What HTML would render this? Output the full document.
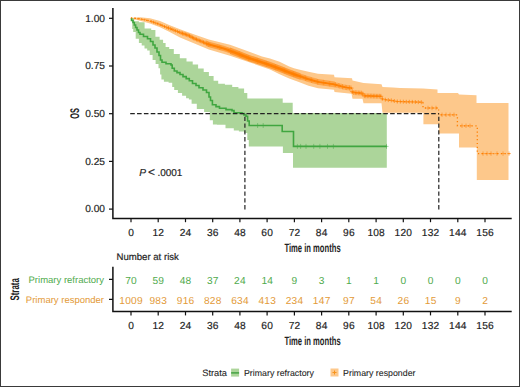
<!DOCTYPE html>
<html><head><meta charset="utf-8"><style>
html,body{margin:0;padding:0;background:#fff;}
body{width:520px;height:387px;overflow:hidden;}
svg{display:block;}
text{font-family:"Liberation Sans",sans-serif;text-rendering:geometricPrecision;}
.t{font-size:10.2px;fill:#1e1e1e;stroke:#1e1e1e;stroke-width:0.18px;}
.l{font-size:8.8px;fill:#222;stroke:#222;stroke-width:0.08px;}
.s{font-size:9.5px;}
.c{fill:#222;}
.n{font-size:10.2px;fill:#1e1e1e;stroke:#1e1e1e;stroke-width:0.18px;letter-spacing:0.2px;}
.m{font-size:10.2px;letter-spacing:0.25px;}
</style></head><body>
<svg width="520" height="387" viewBox="0 0 520 387">
<rect x="0" y="0" width="520" height="387" fill="#fff"/>
<polygon points="131.0,18.0 140.0,17.2 150.0,18.3 160.0,21.0 169.2,25.0 180.0,29.3 194.4,34.5 208.8,39.4 230.0,44.7 250.0,52.0 262.0,56.5 270.0,58.4 279.6,61.7 289.2,66.5 294.0,68.3 298.8,69.4 308.5,71.8 318.0,73.7 334.0,74.8 334.5,77.3 352.0,78.3 352.5,80.5 363.5,83.1 381.5,84.2 382.5,86.9 393.0,87.5 400.0,88.0 423.0,88.5 437.5,89.5 437.5,93.0 458.0,93.0 459.0,94.6 476.5,95.3 476.5,103.0 508.5,103.0 508.5,180.0 476.8,180.0 476.8,147.4 459.0,147.4 459.0,133.5 438.8,133.5 438.8,124.2 423.4,124.2 423.4,112.8 382.5,112.8 381.5,103.2 363.5,103.2 362.5,98.8 352.5,98.8 351.5,93.7 334.5,92.0 334.0,89.8 318.0,88.2 308.5,85.8 298.8,81.9 289.2,78.6 279.6,74.2 270.0,69.4 250.0,62.5 230.0,55.8 208.8,49.5 194.4,43.5 180.0,37.5 169.2,31.7 160.0,27.3 150.0,23.5 140.0,20.8 131.0,18.5" fill="#fdc88b"/>
<polygon points="131.0,18.3 134.2,18.3 134.2,21.2 137.3,21.2 138.9,21.2 138.9,22.3 140.4,22.3 144.6,22.3 144.6,28.5 148.7,28.5 151.2,28.5 151.2,30.0 153.8,30.0 155.4,30.0 155.4,36.7 157.0,36.7 159.6,36.7 159.6,39.8 162.1,39.8 163.1,39.8 163.1,42.9 164.2,42.9 165.6,42.9 165.6,47.0 166.9,47.0 169.2,47.0 169.2,49.0 171.4,49.0 173.8,49.0 173.8,54.1 176.2,54.1 179.8,54.1 179.8,58.3 183.4,58.3 186.5,58.3 186.5,61.4 189.6,61.4 192.7,61.4 192.7,64.5 195.8,64.5 198.1,64.5 198.1,68.5 200.4,68.5 203.7,68.5 203.7,72.0 206.9,72.0 208.9,72.0 208.9,76.0 211.0,76.0 213.6,76.0 213.6,80.7 216.2,80.7 218.2,80.7 218.2,83.8 220.3,83.8 224.9,83.8 224.9,84.8 229.6,84.8 232.2,84.8 232.2,86.9 234.8,86.9 238.4,86.9 238.4,88.5 242.0,88.5 244.1,88.5 244.1,93.1 246.1,93.1 247.3,93.1 247.3,98.5 248.6,98.5 282.7,98.5 282.7,102.7 292.7,102.7 292.7,113.0 386.8,113.0 386.8,167.8 293.5,167.8 293.0,167.8 293.0,153.1 292.5,153.1 283.2,153.1 282.9,153.1 282.9,146.5 282.7,146.5 249.0,146.5 248.8,146.5 248.8,140.0 248.6,140.0 247.3,140.0 247.3,133.0 246.1,133.0 244.1,133.0 244.1,131.5 242.0,131.5 238.9,131.5 238.9,130.5 235.8,130.5 233.8,130.5 233.8,128.2 231.7,128.2 225.5,128.2 225.5,124.8 219.3,124.8 216.9,124.8 216.9,124.4 214.4,124.4 212.9,124.4 212.9,120.3 211.3,120.3 209.8,120.3 209.8,112.0 208.2,112.0 204.1,112.0 204.1,108.9 200.0,108.9 196.8,108.9 196.8,103.7 193.7,103.7 191.6,103.7 191.6,99.6 189.6,99.6 188.9,99.6 188.9,98.2 188.2,98.2 186.1,98.2 186.1,95.7 184.1,95.7 182.1,95.7 182.1,93.1 180.0,93.1 177.9,93.1 177.9,90.0 175.8,90.0 174.2,90.0 174.2,86.9 172.7,86.9 172.2,86.9 172.2,82.7 171.7,82.7 168.6,82.7 168.6,81.7 165.5,81.7 163.9,81.7 163.9,79.6 162.4,79.6 161.4,79.6 161.4,74.5 160.3,74.5 160.1,74.5 160.1,68.3 159.8,68.3 158.5,68.3 158.5,64.1 157.2,64.1 155.6,64.1 155.6,60.0 154.1,60.0 152.6,60.0 152.6,55.0 151.0,55.0 149.7,55.0 149.7,50.5 148.3,50.5 147.2,50.5 147.2,48.5 146.0,48.5 144.5,48.5 144.5,45.5 143.0,45.5 141.7,45.5 141.7,43.0 140.4,43.0 138.9,43.0 138.9,38.8 137.3,38.8 135.7,38.8 135.7,32.0 134.0,32.0 133.2,32.0 133.2,29.0 132.5,29.0 132.2,29.0 132.2,21.0 131.8,21.0 131.4,21.0 131.4,18.3 131.0,18.3" fill="#acd59a"/>
<polyline points="131.0,18.2 135.0,18.3 140.0,18.9 145.0,19.8 150.0,21.0 157.7,23.7 163.0,25.9 169.2,28.3 180.0,32.5 188.5,35.4 194.4,38.6 208.8,44.4 223.3,48.3 230.0,50.7 239.2,54.2 248.8,58.1 258.5,61.2 270.0,65.1 279.6,68.7 289.2,72.5 298.8,76.0 308.5,79.2 318.0,81.9 333.0,84.2 344.6,87.2 351.5,88.2 352.5,92.5 362.5,93.2 363.5,95.8 381.5,96.3 382.5,99.4 393.0,100.6 396.0,101.5 423.0,102.2" fill="none" stroke="#FF7F00" stroke-width="1.3" stroke-dasharray="1.2 2.6"/>
<path d="M131.5,17.2v2.0M130.5,18.2h2.0M134.8,17.3v2.0M133.8,18.3h2.0M138.1,17.7v2.0M137.1,18.7h2.0M141.4,18.2v2.0M140.4,19.2h2.0M144.7,18.7v2.0M143.7,19.7h2.0M148.0,19.5v2.0M147.0,20.5h2.0M151.3,20.0v3.0M149.8,21.5h3.0M153.5,20.7v3.0M152.0,22.2h3.0M155.7,21.5v3.0M154.2,23.0h3.0M157.9,22.3v3.0M156.4,23.8h3.0M160.1,23.2v3.0M158.6,24.7h3.0M162.3,24.1v3.0M160.8,25.6h3.0M164.5,25.0v3.0M163.0,26.5h3.0M166.7,25.5v3.6M164.9,27.3h3.6M168.5,26.2v3.6M166.7,28.0h3.6M170.3,26.9v3.6M168.5,28.7h3.6M172.1,27.6v3.6M170.3,29.4h3.6M173.9,28.3v3.6M172.1,30.1h3.6M175.7,29.0v3.6M173.9,30.8h3.6M177.5,29.7v3.6M175.7,31.5h3.6M179.3,30.4v3.6M177.5,32.2h3.6M181.1,30.8v4.2M179.0,32.9h4.2M182.5,31.3v4.2M180.4,33.4h4.2M183.9,31.7v4.2M181.8,33.8h4.2M185.3,32.2v4.2M183.2,34.3h4.2M186.7,32.7v4.2M184.6,34.8h4.2M188.1,33.2v4.2M186.0,35.3h4.2M189.5,33.8v4.2M187.4,35.9h4.2M190.9,34.6v4.2M188.8,36.7h4.2M192.3,35.4v4.2M190.2,37.5h4.2M193.7,36.1v4.2M191.6,38.2h4.2M195.1,36.8v4.2M193.0,38.9h4.2M196.5,37.3v4.2M194.4,39.4h4.2M197.9,37.9v4.2M195.8,40.0h4.2M199.3,38.5v4.2M197.2,40.6h4.2M200.7,39.0v4.2M198.6,41.1h4.2M202.1,39.6v4.2M200.0,41.7h4.2M203.5,40.2v4.2M201.4,42.3h4.2M204.9,40.7v4.2M202.8,42.8h4.2M206.3,40.7v5.4M203.6,43.4h5.4M207.4,41.1v5.4M204.7,43.8h5.4M208.5,41.6v5.4M205.8,44.3h5.4M209.6,41.9v5.4M206.9,44.6h5.4M210.7,42.2v5.4M208.0,44.9h5.4M211.8,42.5v5.4M209.1,45.2h5.4M212.9,42.8v5.4M210.2,45.5h5.4M214.0,43.1v5.4M211.3,45.8h5.4M215.1,43.4v5.4M212.4,46.1h5.4M216.2,43.7v5.4M213.5,46.4h5.4M217.3,44.0v5.4M214.6,46.7h5.4M218.4,44.3v5.4M215.7,47.0h5.4M219.5,44.6v5.4M216.8,47.3h5.4M220.6,44.9v5.4M217.9,47.6h5.4M221.7,45.2v5.4M219.0,47.9h5.4M222.8,45.5v5.4M220.1,48.2h5.4M223.9,45.8v5.4M221.2,48.5h5.4M225.0,46.2v5.4M222.3,48.9h5.4M226.1,46.6v5.4M223.4,49.3h5.4M227.2,47.0v5.4M224.5,49.7h5.4M228.3,47.4v5.4M225.6,50.1h5.4M229.4,47.8v5.4M226.7,50.5h5.4M230.5,47.7v6.4M227.3,50.9h6.4M231.4,48.0v6.4M228.2,51.2h6.4M232.3,48.4v6.4M229.1,51.6h6.4M233.2,48.7v6.4M230.0,51.9h6.4M234.1,49.1v6.4M230.9,52.3h6.4M235.0,49.4v6.4M231.8,52.6h6.4M235.9,49.7v6.4M232.7,52.9h6.4M236.8,50.1v6.4M233.6,53.3h6.4M237.7,50.4v6.4M234.5,53.6h6.4M238.6,50.8v6.4M235.4,54.0h6.4M239.5,51.1v6.4M236.3,54.3h6.4M240.4,51.5v6.4M237.2,54.7h6.4M241.3,51.9v6.4M238.1,55.1h6.4M242.2,52.2v6.4M239.0,55.4h6.4M243.1,52.6v6.4M239.9,55.8h6.4M244.0,53.0v6.4M240.8,56.2h6.4M244.9,53.3v6.4M241.7,56.5h6.4M245.8,53.7v6.4M242.6,56.9h6.4M246.7,54.0v6.4M243.5,57.2h6.4M247.6,54.4v6.4M244.4,57.6h6.4M248.5,54.8v6.4M245.3,58.0h6.4M249.4,55.1v6.4M246.2,58.3h6.4M250.3,55.4v6.4M247.1,58.6h6.4M251.2,55.7v6.4M248.0,58.9h6.4M252.1,56.0v6.4M248.9,59.2h6.4M253.0,56.2v6.4M249.8,59.4h6.4M253.9,56.5v6.4M250.7,59.7h6.4M254.8,56.8v6.4M251.6,60.0h6.4M255.7,57.1v6.4M252.5,60.3h6.4M256.6,57.4v6.4M253.4,60.6h6.4M257.5,57.7v6.4M254.3,60.9h6.4M258.4,58.0v6.4M255.2,61.2h6.4M259.3,58.3v6.4M256.1,61.5h6.4M260.2,58.6v6.4M257.0,61.8h6.4M261.1,58.9v6.4M257.9,62.1h6.4M262.0,59.2v6.4M258.8,62.4h6.4M262.9,59.5v6.4M259.7,62.7h6.4M263.8,59.8v6.4M260.6,63.0h6.4M264.7,60.1v6.4M261.5,63.3h6.4M265.6,60.4v6.4M262.4,63.6h6.4M266.5,60.7v6.4M263.3,63.9h6.4M267.4,61.0v6.4M264.2,64.2h6.4M268.3,61.3v6.4M265.1,64.5h6.4M269.2,61.6v6.4M266.0,64.8h6.4M270.1,61.9v6.4M266.9,65.1h6.4M271.0,62.3v6.4M267.8,65.5h6.4M271.9,62.6v6.4M268.7,65.8h6.4M272.8,62.9v6.4M269.6,66.1h6.4M273.7,63.3v6.4M270.5,66.5h6.4M274.6,63.6v6.4M271.4,66.8h6.4M275.5,64.0v6.4M272.3,67.2h6.4M276.4,64.3v6.4M273.2,67.5h6.4M277.3,64.6v6.4M274.1,67.8h6.4M278.2,65.0v6.4M275.0,68.2h6.4M279.1,65.3v6.4M275.9,68.5h6.4M280.0,65.7v6.4M276.8,68.9h6.4M280.9,66.0v6.4M277.7,69.2h6.4M281.8,66.4v6.4M278.6,69.6h6.4M282.7,66.7v6.4M279.5,69.9h6.4M283.6,67.1v6.4M280.4,70.3h6.4M284.5,67.4v6.4M281.3,70.6h6.4M285.4,67.8v6.4M282.2,71.0h6.4M286.3,68.2v6.4M283.1,71.4h6.4M287.2,68.5v6.4M284.0,71.7h6.4M288.1,68.9v6.4M284.9,72.1h6.4M289.0,69.2v6.4M285.8,72.4h6.4M289.9,69.6v6.4M286.7,72.8h6.4M290.8,69.9v6.4M287.6,73.1h6.4M291.7,70.2v6.4M288.5,73.4h6.4M292.6,70.5v6.4M289.4,73.7h6.4M293.5,70.9v6.4M290.3,74.1h6.4M294.4,71.2v6.4M291.2,74.4h6.4M295.3,71.5v6.4M292.1,74.7h6.4M296.2,71.9v6.4M293.0,75.1h6.4M297.1,72.2v6.4M293.9,75.4h6.4M298.0,72.5v6.4M294.8,75.7h6.4M298.9,72.8v6.4M295.7,76.0h6.4M299.8,73.1v6.4M296.6,76.3h6.4M300.7,73.7v5.8M297.8,76.6h5.8M301.9,74.1v5.8M299.0,77.0h5.8M303.1,74.5v5.8M300.2,77.4h5.8M304.3,74.9v5.8M301.4,77.8h5.8M305.5,75.3v5.8M302.6,78.2h5.8M306.7,75.7v5.8M303.8,78.6h5.8M307.9,76.1v5.8M305.0,79.0h5.8M309.1,76.5v5.8M306.2,79.4h5.8M310.3,76.8v5.8M307.4,79.7h5.8M311.5,77.2v5.8M308.6,80.1h5.8M312.7,77.5v5.8M309.8,80.4h5.8M313.9,77.8v5.8M311.0,80.7h5.8M315.1,78.2v5.8M312.2,81.1h5.8M316.3,78.5v5.8M313.4,81.4h5.8M317.5,78.9v5.8M314.6,81.8h5.8M318.7,79.1v5.8M315.8,82.0h5.8M319.9,79.3v5.8M317.0,82.2h5.8M321.1,79.5v5.8M318.2,82.4h5.8M322.3,79.7v5.8M319.4,82.6h5.8M323.5,79.8v5.8M320.6,82.7h5.8M324.7,80.0v5.8M321.8,82.9h5.8M325.9,80.2v5.8M323.0,83.1h5.8M327.1,80.4v5.8M324.2,83.3h5.8M328.3,80.6v5.8M325.4,83.5h5.8M329.5,80.8v5.8M326.6,83.7h5.8M330.7,80.9v5.8M327.8,83.8h5.8M331.9,81.1v5.8M329.0,84.0h5.8M333.1,81.3v5.8M330.2,84.2h5.8M334.3,81.6v5.8M331.4,84.5h5.8M335.5,82.2v5.2M332.9,84.8h5.2M336.9,82.6v5.2M334.3,85.2h5.2M338.3,83.0v5.2M335.7,85.6h5.2M339.7,83.3v5.2M337.1,85.9h5.2M341.1,83.7v5.2M338.5,86.3h5.2M342.5,84.1v5.2M339.9,86.7h5.2M343.9,84.4v5.2M341.3,87.0h5.2M345.3,84.7v5.2M342.7,87.3h5.2M346.7,84.9v5.2M344.1,87.5h5.2M348.1,85.1v5.2M345.5,87.7h5.2M349.5,85.3v5.2M346.9,87.9h5.2M350.9,85.5v5.2M348.3,88.1h5.2M352.3,89.2v4.8M349.9,91.6h4.8M353.8,90.2v4.8M351.4,92.6h4.8M355.3,90.3v4.8M352.9,92.7h4.8M356.8,90.4v4.8M354.4,92.8h4.8M358.3,90.5v4.8M355.9,92.9h4.8M359.8,90.6v4.8M357.4,93.0h4.8M361.3,90.7v4.8M358.9,93.1h4.8M362.8,91.6v4.8M360.4,94.0h4.8M364.3,93.4v4.8M361.9,95.8h4.8M365.8,93.5v4.8M363.4,95.9h4.8M367.3,93.5v4.8M364.9,95.9h4.8M368.8,93.5v4.8M366.4,95.9h4.8M370.3,93.6v4.8M367.9,96.0h4.8M371.8,93.6v4.8M369.4,96.0h4.8M373.3,93.7v4.8M370.9,96.1h4.8M374.8,93.7v4.8M372.4,96.1h4.8M376.3,93.8v4.8M373.9,96.2h4.8M377.8,93.8v4.8M375.4,96.2h4.8M379.3,93.8v4.8M376.9,96.2h4.8M380.8,93.9v4.8M378.4,96.3h4.8M382.3,96.8v4.0M380.3,98.8h4.0M385.3,97.7v4.0M383.3,99.7h4.0M388.3,98.1v4.0M386.3,100.1h4.0M391.3,98.4v4.0M389.3,100.4h4.0M394.3,99.0v4.0M392.3,101.0h4.0M397.3,99.5v4.0M395.3,101.5h4.0M400.3,99.6v4.0M398.3,101.6h4.0M403.3,99.7v4.0M401.3,101.7h4.0M406.3,99.8v4.0M404.3,101.8h4.0M409.3,99.8v4.0M407.3,101.8h4.0M412.3,99.9v4.0M410.3,101.9h4.0M415.3,100.0v4.0M413.3,102.0h4.0M418.3,100.1v4.0M416.3,102.1h4.0M421.3,100.2v4.0M419.3,102.2h4.0" fill="none" stroke="#FF7F00" stroke-width="0.8" opacity="0.85"/>
<path d="M423,102.2 V108 H438.6 V114.8 H457.4 V125.8 H477.3 V153.6 H510" fill="none" stroke="#FF7F00" stroke-width="1.3" stroke-dasharray="1.2 2.6"/>
<path d="M428,105.8v4.4M426,108h4M432,105.8v4.4M430,108h4M436,105.8v4.4M434,108h4M442,112.6v4.4M440,114.8h4M446,112.6v4.4M444,114.8h4M450,112.6v4.4M448,114.8h4M454,112.6v4.4M452,114.8h4M462,123.6v4.4M460,125.8h4M466,123.6v4.4M464,125.8h4M470,123.6v4.4M468,125.8h4M483,151.4v4.4M481,153.6h4M487,151.4v4.4M485,153.6h4M491,151.4v4.4M489,153.6h4M497,151.4v4.4M495,153.6h4M503,151.4v4.4M501,153.6h4M509,151.4v4.4M507,153.6h4" fill="none" stroke="#FF7F00" stroke-width="0.7" opacity="0.75"/>
<path d="M131.5,18.3 V20.5 H133 V22.5 H134.3 V25 H135.6 V27.5 H137 V30 H138.5 V32.5 H140 V34.2 H143.5 V36.5 H147.5 V38.8 H150.5 V41.5 H153 V45 H155 V48 H157 V52 H159 V55.5 H160.5 V60 H162 V62.3 H166 V63.8 H171 V65 H172.2 V68.3 H174.3 V71 H177 V72.6 H180 V74.5 H183 V76.6 H186.2 V78.6 H189.3 V80.7 H192.5 V83.5 H196 V85.5 H199 V87.7 H203 V90 H206.5 V92.5 H209 V97 H210.5 V100.5 H212.4 V104.8 H216 V106.6 H219.5 V108.2 H226 V109.6 H232 V110.6 H234 V112.7 H242 V113.5 H244 V115 H246 V116.2 H247.6 V121 H249.2 V125.5 H282.2 V131.5 H293.5 V146.4 H386.8" fill="none" stroke="#40A640" stroke-width="1.6"/>
<path d="M255.60000000000002,125.5 H259.6 M257.6,123.0 V128.0" stroke="#43A843" stroke-width="0.6" opacity="0.8"/>
<path d="M261.2,125.5 H265.2 M263.2,123.0 V128.0" stroke="#43A843" stroke-width="0.6" opacity="0.8"/>
<path d="M295.4,146.4 H299.4 M297.4,143.9 V148.9" stroke="#43A843" stroke-width="0.6" opacity="0.8"/>
<path d="M298.6,146.4 H302.6 M300.6,143.9 V148.9" stroke="#43A843" stroke-width="0.6" opacity="0.8"/>
<path d="M304,146.4 H308 M306,143.9 V148.9" stroke="#43A843" stroke-width="0.6" opacity="0.8"/>
<path d="M311.7,146.4 H315.7 M313.7,143.9 V148.9" stroke="#43A843" stroke-width="0.6" opacity="0.8"/>
<path d="M317.9,146.4 H321.9 M319.9,143.9 V148.9" stroke="#43A843" stroke-width="0.6" opacity="0.8"/>
<path d="M325.5,146.4 H329.5 M327.5,143.9 V148.9" stroke="#43A843" stroke-width="0.6" opacity="0.8"/>
<path d="M331.4,146.4 H335.4 M333.4,143.9 V148.9" stroke="#43A843" stroke-width="0.6" opacity="0.8"/>
<path d="M384.5,146.4 H388.5 M386.5,143.9 V148.9" stroke="#43A843" stroke-width="0.6" opacity="0.8"/>
<path d="M130.2,113.7 H438.8" fill="none" stroke="#222" stroke-width="1.2" stroke-dasharray="4.6 2.24"/>
<path d="M244.9,209.4 V113.7 M438.8,209.4 V113.7" fill="none" stroke="#222" stroke-width="1.2" stroke-dasharray="4.3 2.5"/>
<path d="M112.9,8 V218.6 H511.7" fill="none" stroke="#111" stroke-width="1.5"/>
<path d="M109,18.3 H112.9" stroke="#111" stroke-width="1.2"/>
<text x="105" y="21.6" text-anchor="end" class="t">1.00</text>
<path d="M109,66.0 H112.9" stroke="#111" stroke-width="1.2"/>
<text x="105" y="69.3" text-anchor="end" class="t">0.75</text>
<path d="M109,113.7 H112.9" stroke="#111" stroke-width="1.2"/>
<text x="105" y="117.0" text-anchor="end" class="t">0.50</text>
<path d="M109,161.4 H112.9" stroke="#111" stroke-width="1.2"/>
<text x="105" y="164.7" text-anchor="end" class="t">0.25</text>
<path d="M109,209.1 H112.9" stroke="#111" stroke-width="1.2"/>
<text x="105" y="212.4" text-anchor="end" class="t">0.00</text>
<path d="M131.0,218.6 V222.2" stroke="#111" stroke-width="1.2"/>
<text x="131.1" y="236.2" text-anchor="middle" class="n">0</text>
<path d="M158.2,218.6 V222.2" stroke="#111" stroke-width="1.2"/>
<text x="158.3" y="236.2" text-anchor="middle" class="n">12</text>
<path d="M185.5,218.6 V222.2" stroke="#111" stroke-width="1.2"/>
<text x="185.6" y="236.2" text-anchor="middle" class="n">24</text>
<path d="M212.7,218.6 V222.2" stroke="#111" stroke-width="1.2"/>
<text x="212.8" y="236.2" text-anchor="middle" class="n">36</text>
<path d="M239.9,218.6 V222.2" stroke="#111" stroke-width="1.2"/>
<text x="240.0" y="236.2" text-anchor="middle" class="n">48</text>
<path d="M267.1,218.6 V222.2" stroke="#111" stroke-width="1.2"/>
<text x="267.2" y="236.2" text-anchor="middle" class="n">60</text>
<path d="M294.4,218.6 V222.2" stroke="#111" stroke-width="1.2"/>
<text x="294.5" y="236.2" text-anchor="middle" class="n">72</text>
<path d="M321.6,218.6 V222.2" stroke="#111" stroke-width="1.2"/>
<text x="321.7" y="236.2" text-anchor="middle" class="n">84</text>
<path d="M348.8,218.6 V222.2" stroke="#111" stroke-width="1.2"/>
<text x="348.9" y="236.2" text-anchor="middle" class="n">96</text>
<path d="M376.1,218.6 V222.2" stroke="#111" stroke-width="1.2"/>
<text x="376.2" y="236.2" text-anchor="middle" class="n">108</text>
<path d="M403.3,218.6 V222.2" stroke="#111" stroke-width="1.2"/>
<text x="403.4" y="236.2" text-anchor="middle" class="n">120</text>
<path d="M430.5,218.6 V222.2" stroke="#111" stroke-width="1.2"/>
<text x="430.6" y="236.2" text-anchor="middle" class="n">132</text>
<path d="M457.8,218.6 V222.2" stroke="#111" stroke-width="1.2"/>
<text x="457.9" y="236.2" text-anchor="middle" class="n">144</text>
<path d="M485.0,218.6 V222.2" stroke="#111" stroke-width="1.2"/>
<text x="485.1" y="236.2" text-anchor="middle" class="n">156</text>
<text transform="translate(78.6,113.4) rotate(-90) scale(0.59,1)" text-anchor="middle" class="c" style="font-size:12.5px;font-weight:bold">OS</text>
<text transform="translate(312.5,251.6) scale(0.636,1)" text-anchor="middle" class="c" style="font-size:12px;font-weight:bold">Time in months</text>
<text x="139.3" y="175.5" class="t"><tspan font-style="italic">P</tspan><tspan dx="2" style="font-size:12px">&lt;</tspan><tspan dx="2.3" style="font-size:10px">.0001</tspan></text>
<text x="116.5" y="259.6" class="t" style="font-size:9.6px">Number at risk</text>
<path d="M112.9,266.7 V311.6 H511.7" fill="none" stroke="#111" stroke-width="1.5"/>
<path d="M109,279.3 H112.9 M109,299.3 H112.9" stroke="#111" stroke-width="1.2"/>
<text x="104" y="282.9" text-anchor="end" class="s" style="fill:#4FAA4C">Primary refractory</text>
<text x="104" y="302.7" text-anchor="end" class="s" style="fill:#E39A38">Primary responder</text>
<text transform="translate(19.1,289.4) rotate(-90) scale(0.633,1)" text-anchor="middle" class="c" style="font-size:12.5px;font-weight:bold">Strata</text>
<text x="131.1" y="283.8" text-anchor="middle" class="m" style="fill:#4FAA4C">70</text>
<text x="131.1" y="303.8" text-anchor="middle" class="m" style="fill:#E39A38">1009</text>
<path d="M131.0,311.6 V315.4" stroke="#111" stroke-width="1.2"/>
<text x="131.1" y="329.1" text-anchor="middle" class="n">0</text>
<text x="158.3" y="283.8" text-anchor="middle" class="m" style="fill:#4FAA4C">59</text>
<text x="158.3" y="303.8" text-anchor="middle" class="m" style="fill:#E39A38">983</text>
<path d="M158.2,311.6 V315.4" stroke="#111" stroke-width="1.2"/>
<text x="158.3" y="329.1" text-anchor="middle" class="n">12</text>
<text x="185.6" y="283.8" text-anchor="middle" class="m" style="fill:#4FAA4C">48</text>
<text x="185.6" y="303.8" text-anchor="middle" class="m" style="fill:#E39A38">916</text>
<path d="M185.5,311.6 V315.4" stroke="#111" stroke-width="1.2"/>
<text x="185.6" y="329.1" text-anchor="middle" class="n">24</text>
<text x="212.8" y="283.8" text-anchor="middle" class="m" style="fill:#4FAA4C">37</text>
<text x="212.8" y="303.8" text-anchor="middle" class="m" style="fill:#E39A38">828</text>
<path d="M212.7,311.6 V315.4" stroke="#111" stroke-width="1.2"/>
<text x="212.8" y="329.1" text-anchor="middle" class="n">36</text>
<text x="240.0" y="283.8" text-anchor="middle" class="m" style="fill:#4FAA4C">24</text>
<text x="240.0" y="303.8" text-anchor="middle" class="m" style="fill:#E39A38">634</text>
<path d="M239.9,311.6 V315.4" stroke="#111" stroke-width="1.2"/>
<text x="240.0" y="329.1" text-anchor="middle" class="n">48</text>
<text x="267.3" y="283.8" text-anchor="middle" class="m" style="fill:#4FAA4C">14</text>
<text x="267.3" y="303.8" text-anchor="middle" class="m" style="fill:#E39A38">413</text>
<path d="M267.1,311.6 V315.4" stroke="#111" stroke-width="1.2"/>
<text x="267.2" y="329.1" text-anchor="middle" class="n">60</text>
<text x="294.5" y="283.8" text-anchor="middle" class="m" style="fill:#4FAA4C">9</text>
<text x="294.5" y="303.8" text-anchor="middle" class="m" style="fill:#E39A38">234</text>
<path d="M294.4,311.6 V315.4" stroke="#111" stroke-width="1.2"/>
<text x="294.5" y="329.1" text-anchor="middle" class="n">72</text>
<text x="321.7" y="283.8" text-anchor="middle" class="m" style="fill:#4FAA4C">3</text>
<text x="321.7" y="303.8" text-anchor="middle" class="m" style="fill:#E39A38">147</text>
<path d="M321.6,311.6 V315.4" stroke="#111" stroke-width="1.2"/>
<text x="321.7" y="329.1" text-anchor="middle" class="n">84</text>
<text x="349.0" y="283.8" text-anchor="middle" class="m" style="fill:#4FAA4C">1</text>
<text x="349.0" y="303.8" text-anchor="middle" class="m" style="fill:#E39A38">97</text>
<path d="M348.8,311.6 V315.4" stroke="#111" stroke-width="1.2"/>
<text x="348.9" y="329.1" text-anchor="middle" class="n">96</text>
<text x="376.2" y="283.8" text-anchor="middle" class="m" style="fill:#4FAA4C">1</text>
<text x="376.2" y="303.8" text-anchor="middle" class="m" style="fill:#E39A38">54</text>
<path d="M376.1,311.6 V315.4" stroke="#111" stroke-width="1.2"/>
<text x="376.2" y="329.1" text-anchor="middle" class="n">108</text>
<text x="403.4" y="283.8" text-anchor="middle" class="m" style="fill:#4FAA4C">0</text>
<text x="403.4" y="303.8" text-anchor="middle" class="m" style="fill:#E39A38">26</text>
<path d="M403.3,311.6 V315.4" stroke="#111" stroke-width="1.2"/>
<text x="403.4" y="329.1" text-anchor="middle" class="n">120</text>
<text x="430.7" y="283.8" text-anchor="middle" class="m" style="fill:#4FAA4C">0</text>
<text x="430.7" y="303.8" text-anchor="middle" class="m" style="fill:#E39A38">15</text>
<path d="M430.5,311.6 V315.4" stroke="#111" stroke-width="1.2"/>
<text x="430.6" y="329.1" text-anchor="middle" class="n">132</text>
<text x="457.9" y="283.8" text-anchor="middle" class="m" style="fill:#4FAA4C">0</text>
<text x="457.9" y="303.8" text-anchor="middle" class="m" style="fill:#E39A38">9</text>
<path d="M457.8,311.6 V315.4" stroke="#111" stroke-width="1.2"/>
<text x="457.9" y="329.1" text-anchor="middle" class="n">144</text>
<text x="485.1" y="283.8" text-anchor="middle" class="m" style="fill:#4FAA4C">0</text>
<text x="485.1" y="303.8" text-anchor="middle" class="m" style="fill:#E39A38">2</text>
<path d="M485.0,311.6 V315.4" stroke="#111" stroke-width="1.2"/>
<text x="485.1" y="329.1" text-anchor="middle" class="n">156</text>
<text transform="translate(312.5,344.5) scale(0.636,1)" text-anchor="middle" class="c" style="font-size:12px;font-weight:bold">Time in months</text>
<text x="202.2" y="375.9" class="l" style="font-size:9.3px">Strata</text>
<rect x="231.1" y="368.6" width="8" height="8" fill="#acd59a"/>
<path d="M231.1,372.9 H239.1" stroke="#3E9E3E" stroke-width="1.4"/>
<text x="244" y="375.9" class="l">Primary refractory</text>
<rect x="330.5" y="368.5" width="8" height="8" fill="#fdc88b"/>
<path d="M332.5,372.5 H336.5 M334.5,370.5 V374.5" stroke="#F7941D" stroke-width="1"/>
<text x="343.1" y="375.9" class="l">Primary responder</text>
<rect x="0.5" y="0.5" width="519" height="386" fill="none" stroke="#3a3a3a" stroke-width="1"/>
</svg>
</body></html>
